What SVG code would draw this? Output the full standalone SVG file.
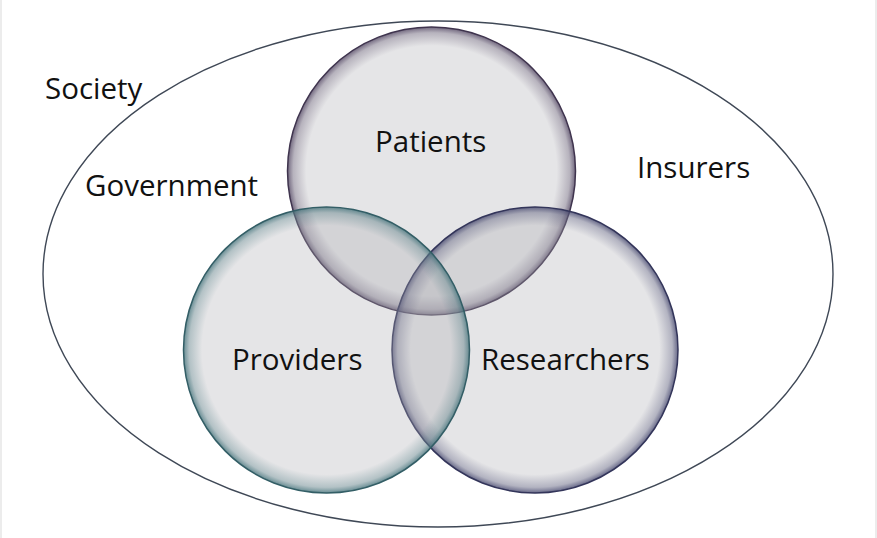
<svg xmlns="http://www.w3.org/2000/svg" width="877" height="538" viewBox="0 0 877 538">
<style>
.lbl{font-family:"Open Sans","Noto Sans","Liberation Sans",sans-serif;font-size:29.5px;fill:#111111}
.base{fill:#aaaaae;fill-opacity:0.3}
</style>
<defs>
<radialGradient id="gPat" cx="0.5" cy="0.5" r="0.5">
<stop offset="0" stop-color="#4b3e5c" stop-opacity="0"/>
<stop offset="0.87" stop-color="#4b3e5c" stop-opacity="0"/>
<stop offset="0.96" stop-color="#4b3e5c" stop-opacity="0.3"/>
<stop offset="1" stop-color="#4b3e5c" stop-opacity="0.75"/>
</radialGradient>
<radialGradient id="gPro" cx="0.5" cy="0.5" r="0.5">
<stop offset="0" stop-color="#3e6f77" stop-opacity="0"/>
<stop offset="0.87" stop-color="#3e6f77" stop-opacity="0"/>
<stop offset="0.96" stop-color="#3e6f77" stop-opacity="0.3"/>
<stop offset="1" stop-color="#3e6f77" stop-opacity="0.75"/>
</radialGradient>
<radialGradient id="gRes" cx="0.5" cy="0.5" r="0.5">
<stop offset="0" stop-color="#3d3f68" stop-opacity="0"/>
<stop offset="0.87" stop-color="#3d3f68" stop-opacity="0"/>
<stop offset="0.96" stop-color="#3d3f68" stop-opacity="0.3"/>
<stop offset="1" stop-color="#3d3f68" stop-opacity="0.75"/>
</radialGradient>
</defs>
<rect x="0" y="0" width="877" height="538" fill="#ffffff"/>
<rect x="0" y="0" width="2" height="538" fill="#ececec"/>
<rect x="875" y="0" width="2" height="538" fill="#ececec"/>
<g id="society">
<ellipse cx="438" cy="274" rx="395" ry="253" fill="none" stroke="#3f4856" stroke-width="1.4"/>
<text class="lbl" x="45" y="99">Society</text>
</g>
<g id="government"><text class="lbl" x="85" y="196">Government</text></g>
<g id="insurers"><text class="lbl" x="637" y="178">Insurers</text></g>
<g id="patients">
<circle class="base" cx="431.5" cy="171" r="144"/>
<circle cx="431.5" cy="171" r="144" fill="url(#gPat)" stroke="#3f344e" stroke-width="1.5"/>
</g>
<g id="researchers">
<circle class="base" cx="535" cy="350" r="143"/>
<circle cx="535" cy="350" r="143" fill="url(#gRes)" stroke="#33355a" stroke-width="1.5"/>
</g>
<g id="providers">
<circle class="base" cx="326.5" cy="350" r="143"/>
<circle cx="326.5" cy="350" r="143" fill="url(#gPro)" stroke="#335e66" stroke-width="1.5"/>
</g>
<g id="labels">
<text class="lbl" x="375" y="152">Patients</text>
<text class="lbl" x="232" y="370">Providers</text>
<text class="lbl" x="481" y="370">Researchers</text>
</g>
<g id="connectors"></g>
</svg>
